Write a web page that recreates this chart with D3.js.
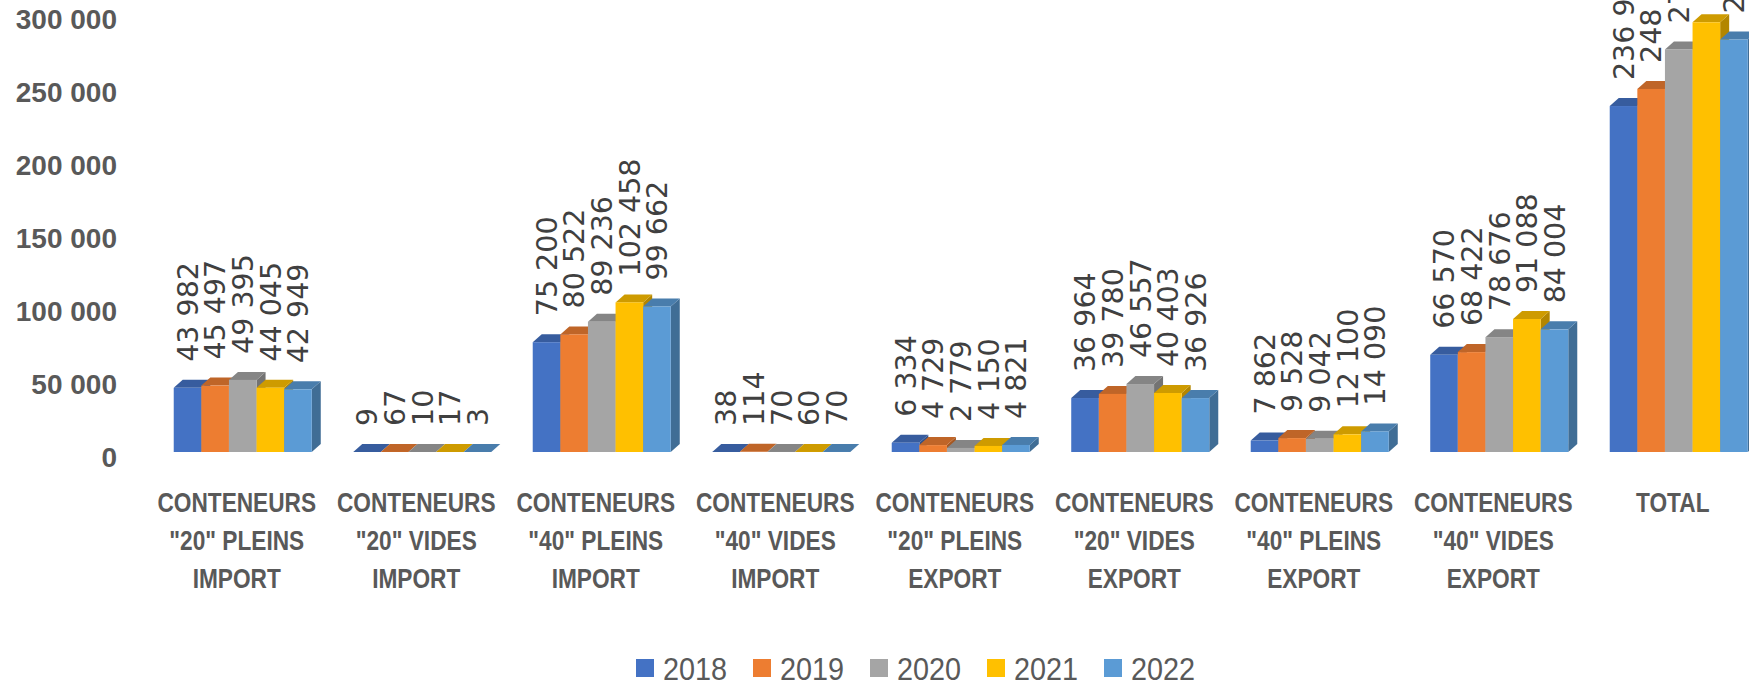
<!DOCTYPE html>
<html>
<head>
<meta charset="utf-8">
<script src="https://cdn.jsdelivr.net/npm/d3@7"></script>
<style>
    body { margin: 0; background: #fff; }
    svg { display: block; }
</style>
</head>
<body>
<svg id="chart" width="1749" height="688"></svg>
<script>
// categories (each one is a list of label lines)
const categories = [
    ["CONTENEURS", "\"20\" PLEINS", "IMPORT"],
    ["CONTENEURS", "\"20\" VIDES", "IMPORT"],
    ["CONTENEURS", "\"40\" PLEINS", "IMPORT"],
    ["CONTENEURS", "\"40\" VIDES", "IMPORT"],
    ["CONTENEURS", "\"20\" PLEINS", "EXPORT"],
    ["CONTENEURS", "\"20\" VIDES", "EXPORT"],
    ["CONTENEURS", "\"40\" PLEINS", "EXPORT"],
    ["CONTENEURS", "\"40\" VIDES", "EXPORT"],
    ["TOTAL"]
];
const years = ["2018", "2019", "2020", "2021", "2022"];

const values2018 = [43982, 9, 75200, 38, 6334, 36964, 7862, 66570, 236959];
const values2019 = [45497, 67, 80522, 114, 4729, 39780, 9528, 68422, 248659];
const values2020 = [49395, 10, 89236, 70, 2779, 46557, 9042, 78676, 275765];
const values2021 = [44045, 17, 102458, 60, 4150, 40403, 12100, 91088, 294321];
const values2022 = [42949, 3, 99662, 70, 4821, 36926, 14090, 84004, 282525];
const series = [values2018, values2019, values2020, values2021, values2022];

const yTicks = [0, 50000, 100000, 150000, 200000, 250000, 300000];
const colors = ["#4472C4", "#ED7D31", "#A5A5A5", "#FFC000", "#5B9BD5"];

const svg = d3.select("#chart");
const keys = categories.map((c, i) => "c" + i);

// 3d depth of the columns
const depthX = 9;
const depthY = 8;

const fmt = d3.formatLocale({ decimal: ",", thousands: " ", grouping: [3], currency: ["", ""] }).format(",d");

const scaleX = d3.scaleBand()
    .domain(keys)
    .range([153, 153 + 9 * 179.5])
    .paddingInner(0.231)
    .paddingOuter(0.1155);

const scaleYear = d3.scaleBand()
    .domain(years)
    .range([0, scaleX.bandwidth()]);

const scaleY = d3.scaleLinear()
    .domain([0, 300000])
    .range([452, 14]);

// axe Y, sans ligne
const yAxis = d3.axisLeft(scaleY)
    .tickValues(yTicks)
    .tickSize(0)
    .tickPadding(0)
    .tickFormat(fmt);

svg.append("g")
    .attr("transform", "translate(117, 6)")
    .call(yAxis)
    .call(g => g.select(".domain").remove())
    .selectAll("text")
    .attr("font-family", "Liberation Sans, Arial, sans-serif")
    .attr("font-weight", "bold")
    .attr("font-size", 28)
    .attr("fill", "#595959");

// colonnes
const bars = svg.append("g");
categories.forEach((cat, ci) => {
    years.forEach((yr, yi) => {
        const v = series[yi][ci];
        const x0 = scaleX(keys[ci]) + scaleYear(yr);
        const w = scaleYear.bandwidth();
        const y0 = scaleY(0);
        const y1 = scaleY(v);
        const base = d3.color(colors[yi]);

        // side face
        bars.append("path")
            .attr("d", `M${x0 + w},${y0} L${x0 + w + depthX},${y0 - depthY} L${x0 + w + depthX},${y1 - depthY} L${x0 + w},${y1} Z`)
            .attr("fill", base.darker(1).formatHex());
        // top face
        bars.append("path")
            .attr("d", `M${x0},${y1} L${x0 + depthX},${y1 - depthY} L${x0 + w + depthX},${y1 - depthY} L${x0 + w},${y1} Z`)
            .attr("fill", base.darker(0.6).formatHex());
        // front face
        bars.append("rect")
            .attr("x", x0)
            .attr("y", y1)
            .attr("width", w)
            .attr("height", y0 - y1)
            .attr("fill", colors[yi]);
    });
});

// étiquettes des valeurs
const labels = svg.append("g");
categories.forEach((cat, ci) => {
    years.forEach((yr, yi) => {
        const v = series[yi][ci];
        const cx = scaleX(keys[ci]) + scaleYear(yr) + scaleYear.bandwidth() / 2;
        labels.append("text")
            .attr("transform", `translate(${cx}, ${scaleY(v) - 26}) rotate(-90)`)
            .attr("dy", "0.36em")
            .attr("font-family", "DejaVu Sans, sans-serif")
            .attr("font-size", 28.5)
            .attr("fill", "#404040")
            .text(fmt(v));
    });
});

// libellés des catégories
const catLabels = svg.append("g");
categories.forEach((lines, ci) => {
    const cx = scaleX(keys[ci]) + scaleX.bandwidth() / 2 - 6;
    lines.forEach((line, li) => {
        catLabels.append("text")
            .attr("transform", `translate(${cx}, ${512 + li * 38}) scale(0.81, 1)`)
            .attr("text-anchor", "middle")
            .attr("font-family", "Liberation Sans, Arial, sans-serif")
            .attr("font-weight", "bold")
            .attr("font-size", 28)
            .attr("fill", "#595959")
            .text(line);
    });
});

// légende
const legend = svg.append("g");
years.forEach((yr, yi) => {
    const lx = 636 + yi * 117;
    legend.append("rect")
        .attr("x", lx)
        .attr("y", 659)
        .attr("width", 18)
        .attr("height", 18)
        .attr("fill", colors[yi]);
    legend.append("text")
        .attr("transform", `translate(${lx + 27}, 680) scale(0.9, 1)`)
        .attr("font-family", "Liberation Sans, Arial, sans-serif")
        .attr("font-size", 32)
        .attr("fill", "#595959")
        .text(yr);
});
</script>
</body>
</html>
